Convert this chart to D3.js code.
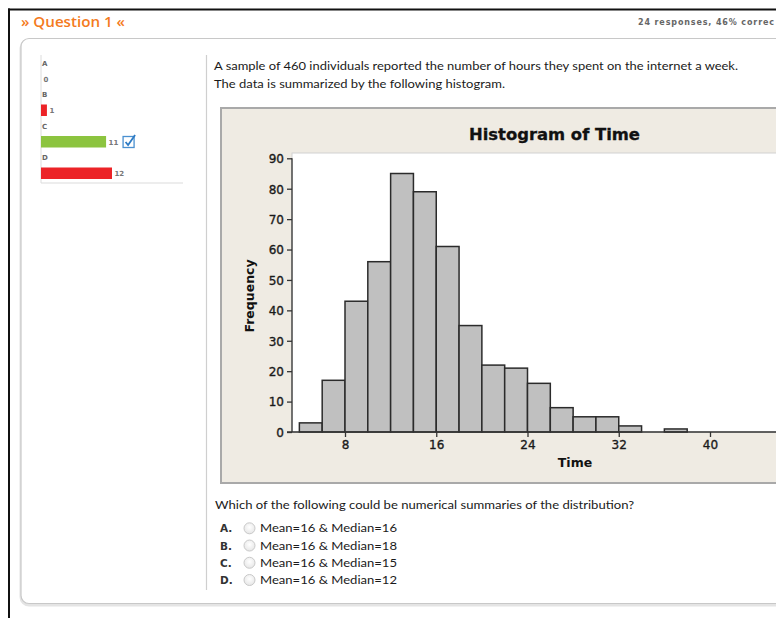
<!DOCTYPE html>
<html>
<head>
<meta charset="utf-8">
<script src="https://cdn.jsdelivr.net/npm/d3@7"></script>
<style>
  html, body { margin: 0; padding: 0; background: #fff; overflow: hidden; }
  svg { display: block; }
</style>
</head>
<body>
<svg id="chart" width="776" height="618"></svg>
<script>
// ---------------- DATA ----------------
const binStarts = [4, 6, 8, 10, 12, 14, 16, 18, 20, 22, 24, 26, 28, 30, 32, 34, 36];
const frequencies = [3, 17, 43, 56, 85, 79, 61, 35, 22, 21, 16, 8, 5, 5, 2, 0, 1];
const binWidth = 2;
const yTicks = [0, 10, 20, 30, 40, 50, 60, 70, 80, 90];
const xTicks = [8, 16, 24, 32, 40];

const choices = ["A", "B", "C", "D"];
const responseCounts = [0, 1, 11, 12];
const correctChoice = "C";

const optionTexts = ["Mean=16 & Median=16", "Mean=16 & Median=18", "Mean=16 & Median=15", "Mean=16 & Median=12"];

const headerTitle = "» Question 1 «";
const headerStats = "24 responses, 46% correc";
const questionLines = [
  "A sample of 460 individuals reported the number of hours they spent on the internet a week.",
  "The data is summarized by the following histogram."
];
const prompt = "Which of the following could be numerical summaries of the distribution?";

// ---------------- DRAW ----------------
const svg = d3.select("#chart");
const body = "Lato, 'Open Sans', sans-serif";
const mini = "'DejaVu Sans', Verdana, sans-serif";

// outer black frame
svg.append("line").attr("x1", 8).attr("x2", 776).attr("y1", 9.5).attr("y2", 9.5)
  .attr("stroke", "#111").attr("stroke-width", 2);
svg.append("line").attr("x1", 9).attr("x2", 9).attr("y1", 8.5).attr("y2", 618)
  .attr("stroke", "#111").attr("stroke-width", 2);

// header
svg.append("text").attr("x", 21).attr("y", 26.5)
  .attr("font-family", "'Open Sans', sans-serif").attr("font-size", 15).attr("font-weight", 600)
  .attr("fill", "#F47A20").attr("textLength", 104).attr("lengthAdjust", "spacingAndGlyphs")
  .text(headerTitle);
svg.append("text").attr("x", 638).attr("y", 24.5)
  .attr("font-family", mini).attr("font-size", 8).attr("font-weight", "bold")
  .attr("fill", "#666").attr("textLength", 136).attr("lengthAdjust", "spacing")
  .text(headerStats);

// rounded content box with soft shadow
svg.append("rect").attr("x", 21).attr("y", 40).attr("width", 800).attr("height", 565)
  .attr("rx", 8).attr("fill", "none").attr("stroke", "#e4e4e4").attr("stroke-width", 3);
svg.append("rect").attr("x", 21).attr("y", 38.5).attr("width", 800).attr("height", 565)
  .attr("rx", 8).attr("fill", "#fff").attr("stroke", "#c8c8c8").attr("stroke-width", 1.2);

// ---------- left responses panel ----------
const rx = d3.scaleLinear().domain([0, 12]).range([41, 112]);
const ry = d3.scaleBand().domain(choices).range([62, 188]).paddingInner(0);
const leftG = svg.append("g");
leftG.append("line").attr("x1", 41).attr("x2", 41).attr("y1", 55).attr("y2", 183)
  .attr("stroke", "#dcdcdc").attr("stroke-width", 1);
leftG.append("line").attr("x1", 41).attr("x2", 183).attr("y1", 183).attr("y2", 183)
  .attr("stroke", "#dcdcdc").attr("stroke-width", 1.2);

choices.forEach((c, i) => {
  const y0 = ry(c);
  const barY = y0 + 11;
  leftG.append("text").attr("x", 42).attr("y", y0 + 3.5)
    .attr("font-family", mini).attr("font-size", 7).attr("font-weight", "bold")
    .attr("fill", "#666").text(c);
  const w = rx(responseCounts[i]) - rx(0);
  if (w > 0) {
    leftG.append("rect").attr("x", rx(0)).attr("y", barY).attr("width", w).attr("height", 11.5)
      .attr("fill", c === correctChoice ? "#8CC43F" : "#EC2327");
  }
  leftG.append("text").attr("x", rx(responseCounts[i]) + 2.5).attr("y", barY + 8.5)
    .attr("font-family", mini).attr("font-size", 7).attr("font-weight", "bold")
    .attr("fill", "#777").text(responseCounts[i]);
  if (c === correctChoice) {
    const bx = rx(responseCounts[i]) + 17;
    leftG.append("rect").attr("x", bx).attr("y", barY + 0.5).attr("width", 11).attr("height", 11)
      .attr("fill", "#fff").attr("stroke", "#4A90D0").attr("stroke-width", 1.3);
    leftG.append("path")
      .attr("d", `M${bx + 2.5},${barY + 6} L${bx + 5},${barY + 9} L${bx + 12},${barY - 1}`)
      .attr("fill", "none").attr("stroke", "#2E7BC4").attr("stroke-width", 1.8);
  }
});

// vertical separator
svg.append("line").attr("x1", 206.5).attr("x2", 206.5).attr("y1", 55).attr("y2", 590)
  .attr("stroke", "#cfcfcf").attr("stroke-width", 1.2);

// question text
const qLens = [524, 291];
questionLines.forEach((t, i) => {
  svg.append("text").attr("x", 214).attr("y", 70 + i * 18)
    .attr("font-family", body).attr("font-size", 11.5).attr("fill", "#1a1a1a")
    .attr("textLength", qLens[i]).attr("lengthAdjust", "spacingAndGlyphs").text(t);
});

// ---------- histogram ----------
const panel = svg.append("g");
panel.append("rect").attr("x", 221).attr("y", 108).attr("width", 600).attr("height", 375)
  .attr("fill", "#EFEBE3").attr("stroke", "#a9a9a9").attr("stroke-width", 2);

const x = d3.scaleLinear().domain([8, 40]).range([345, 710]);
const y = d3.scaleLinear().domain([0, 90]).range([432, 158.3]);

panel.append("rect").attr("x", 292).attr("y", 153).attr("width", 520).attr("height", 432 - 153)
  .attr("fill", "#fff").attr("stroke", "#d2d2d2").attr("stroke-width", 1);

panel.append("text").attr("x", 554.5).attr("y", 139.5).attr("text-anchor", "middle")
  .attr("font-family", mini).attr("font-size", 15).attr("font-weight", "bold").attr("fill", "#111")
  .attr("stroke", "#111").attr("stroke-width", 0.3)
  .attr("textLength", 171).attr("lengthAdjust", "spacingAndGlyphs").text("Histogram of Time");

const bins = binStarts.map((s, i) => ({ x0: s, x1: s + binWidth, n: frequencies[i] }))
  .filter(d => d.n > 0);
panel.selectAll("rect.bar").data(bins).enter().append("rect").attr("class", "bar")
  .attr("x", d => x(d.x0)).attr("y", d => y(d.n))
  .attr("width", d => x(d.x1) - x(d.x0)).attr("height", d => y(0) - y(d.n))
  .attr("fill", "#C0C0C0").attr("stroke", "#2b2b2b").attr("stroke-width", 1.5);

// y axis
const yAxis = d3.axisLeft(y).tickValues(yTicks).tickSize(5).tickPadding(3);
const yg = panel.append("g").attr("transform", "translate(292,0)").call(yAxis);
yg.select(".domain").attr("stroke", "#333").attr("stroke-width", 1.3).attr("d", `M0,${y(90)}V${y(0)}`);
yg.selectAll(".tick line").attr("stroke", "#333").attr("stroke-width", 1.3);
yg.selectAll(".tick text").attr("font-family", mini).attr("font-size", 12).attr("fill", "#1a1a1a")
  .attr("stroke", "#1a1a1a").attr("stroke-width", 0.35).attr("dy", "0.36em");

// x axis
const xAxis = d3.axisBottom(x).tickValues(xTicks).tickSize(5).tickPadding(3);
const xg = panel.append("g").attr("transform", "translate(0,432)").call(xAxis);
xg.select(".domain").attr("stroke", "#333").attr("stroke-width", 1.3).attr("d", `M287,0H812`);
xg.selectAll(".tick line").attr("stroke", "#333").attr("stroke-width", 1.3);
xg.selectAll(".tick text").attr("font-family", mini).attr("font-size", 12).attr("fill", "#1a1a1a")
  .attr("stroke", "#1a1a1a").attr("stroke-width", 0.35);

panel.append("text").attr("x", 575).attr("y", 466.5).attr("text-anchor", "middle")
  .attr("font-family", mini).attr("font-size", 12.5).attr("font-weight", "bold").attr("fill", "#111")
  .text("Time");
panel.append("text").attr("transform", "translate(253.5,296) rotate(-90)").attr("text-anchor", "middle")
  .attr("font-family", mini).attr("font-size", 12.5).attr("font-weight", "bold").attr("fill", "#111")
  .text("Frequency");

// ---------- answers ----------
svg.append("text").attr("x", 215).attr("y", 509)
  .attr("font-family", body).attr("font-size", 11.5).attr("fill", "#1a1a1a")
  .attr("textLength", 419).attr("lengthAdjust", "spacingAndGlyphs").text(prompt);

const oy = d3.scalePoint().domain(choices).range([528.3, 580]);
const defs = svg.append("defs");
const grad = defs.append("radialGradient").attr("id", "rg").attr("cx", "50%").attr("cy", "40%").attr("r", "60%");
grad.append("stop").attr("offset", "0%").attr("stop-color", "#ffffff");
grad.append("stop").attr("offset", "100%").attr("stop-color", "#e6e6e6");

choices.forEach((c, i) => {
  const yy = oy(c);
  svg.append("text").attr("x", 220).attr("y", yy + 4)
    .attr("font-family", mini).attr("font-size", 10.5).attr("font-weight", "bold").attr("fill", "#333")
    .text(c + ".");
  svg.append("circle").attr("cx", 249.5).attr("cy", yy).attr("r", 5.5)
    .attr("fill", "url(#rg)").attr("stroke", "#c9c9c9").attr("stroke-width", 1);
  svg.append("text").attr("x", 260).attr("y", yy + 4)
    .attr("font-family", body).attr("font-size", 11.5).attr("fill", "#1a1a1a")
    .attr("textLength", 137).attr("lengthAdjust", "spacingAndGlyphs").text(optionTexts[i]);
});
</script>
</body>
</html>
